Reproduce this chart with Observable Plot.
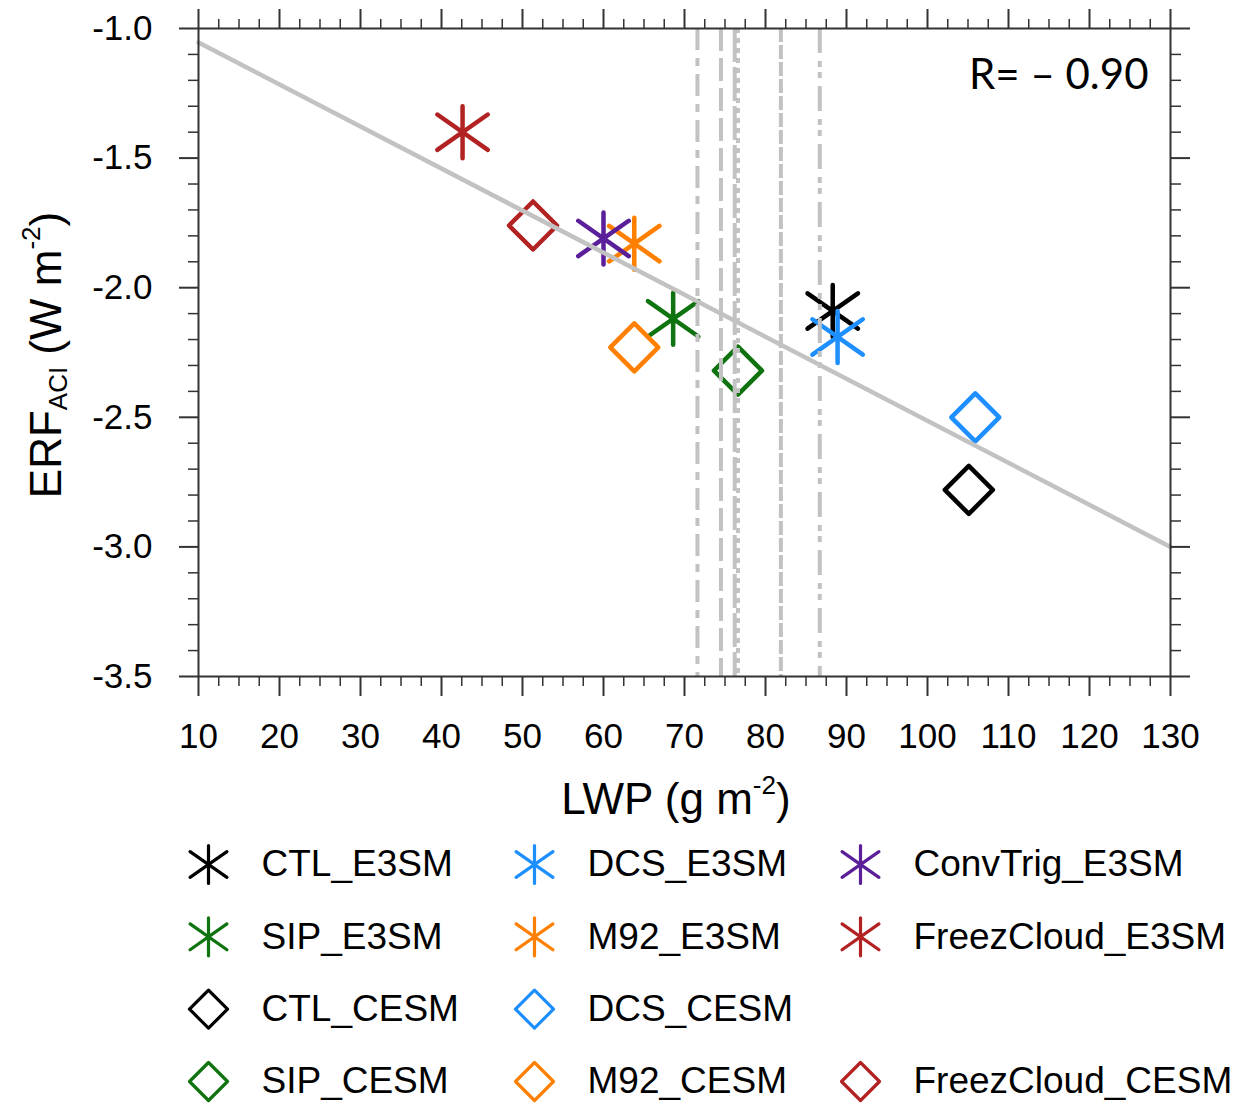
<!DOCTYPE html>
<html>
<head>
<meta charset="utf-8">
<script src="https://cdn.jsdelivr.net/npm/d3@7"></script>
<script src="https://cdn.jsdelivr.net/npm/@observablehq/plot@0.6"></script>
<style>
  html, body { margin: 0; padding: 0; background: white; }
  svg { display: block; }
</style>
</head>
<body>
<div id="chart"></div>
<script>
// ---------- data ----------
const names = ["CTL_E3SM","SIP_E3SM","DCS_E3SM","M92_E3SM","ConvTrig_E3SM","FreezCloud_E3SM",
               "CTL_CESM","SIP_CESM","DCS_CESM","M92_CESM","FreezCloud_CESM"];
const lwp = [88.3, 68.6, 88.9, 63.8, 60.0, 42.6, 105.1, 76.6, 105.9, 63.8, 51.3];
const erf = [-2.09, -2.12, -2.19, -1.83, -1.81, -1.40, -2.78, -2.32, -2.50, -2.23, -1.76];
const colors = ["#000000","#0f730f","#1e8fff","#ff8000","#5a1f99","#b22222",
                "#000000","#0f730f","#1e8fff","#ff8000","#b22222"];
const models = ["E3SM","E3SM","E3SM","E3SM","E3SM","E3SM","CESM","CESM","CESM","CESM","CESM"];
// legend layout (column, row)
const legendCol = [0, 0, 1, 1, 2, 2, 0, 0, 1, 1, 2];
const legendRow = [0, 1, 0, 1, 0, 1, 2, 3, 2, 3, 3];

// regression line end points
const regX = [10, 130];
const regY = [-1.054, -3.0];

// vertical reference lines
const vlineX = [71.6, 74.5, 76.2, 76.6, 81.9, 86.7];
const vlineDash = ["22 8 8 8", "23 7", "34 5", "5 5", "14 3", "25 8 6 5 6 8"];

const xTicks = [10, 20, 30, 40, 50, 60, 70, 80, 90, 100, 110, 120, 130];
const yTicks = [-3.5, -3.0, -2.5, -2.0, -1.5, -1.0];
const xMinor = d3.range(10, 131, 2.5).filter(v => v % 10 !== 0);
const yMinor = d3.range(-35, -9).filter(v => v % 5 !== 0).map(v => v / 10);

const rText = "R= \u2013 0.90";

// ---------- custom symbols ----------
const asterisk = {
  draw(ctx, size) {
    const r = Math.sqrt(size / Math.PI);
    const u = r * 0.97, t = r * 0.68;
    ctx.moveTo(0, -r); ctx.lineTo(0, r);
    ctx.moveTo(-u, -t); ctx.lineTo(u, t);
    ctx.moveTo(-u, t); ctx.lineTo(u, -t);
  }
};
const diamond = {
  draw(ctx, size) {
    const r = Math.sqrt(size / Math.PI);
    ctx.moveTo(0, -r); ctx.lineTo(r, 0); ctx.lineTo(0, r); ctx.lineTo(-r, 0); ctx.closePath();
  }
};

const table = names.map((n, i) => ({name: n, lwp: lwp[i], erf: erf[i], color: colors[i],
  model: models[i], col: legendCol[i], row: legendRow[i]}));
const e3sm = table.filter(d => d.model === "E3SM");
const cesm = table.filter(d => d.model === "CESM");
const regTable = regX.map((x, i) => ({x, y: regY[i]}));

const font = "'Liberation Sans', Arial, Helvetica, sans-serif";
const gray = "#c2c2c2";
const axisColor = "#333333";

const main = Plot.plot({
  width: 1238, height: 840,
  marginLeft: 198, marginRight: 68, marginTop: 28, marginBottom: 164,
  x: {domain: [10, 130], axis: null},
  y: {domain: [-3.5, -1.0], axis: null},
  color: {type: "identity"},
  style: {fontFamily: font, fontSize: "35px", background: "white", color: "black"},
  marks: [
    Plot.dot(e3sm, {x: "lwp", y: "erf", stroke: "color", symbol: asterisk, r: 26, strokeWidth: 4.5, strokeLinecap: "round", fill: "none"}),
    Plot.dot(cesm, {x: "lwp", y: "erf", stroke: "color", symbol: diamond, r: 24, strokeWidth: 4.5, strokeLinejoin: "round", fill: "none"}),
    ...vlineX.map((v, i) => Plot.ruleX([v], {stroke: gray, strokeWidth: 4, strokeDasharray: vlineDash[i]})),
    Plot.line(regTable, {x: "x", y: "y", stroke: gray, strokeWidth: 4.5}),
    Plot.frame({stroke: axisColor, strokeWidth: 2}),
    Plot.axisX({ticks: xTicks, anchor: "bottom", tickSize: 20, tickPadding: 27, tickFormat: d => String(d), label: null, stroke: axisColor, strokeWidth: 2, fill: "black", fontSize: 35}),
    Plot.axisX({ticks: xMinor, anchor: "bottom", tickSize: 10, tickFormat: () => "", label: null, stroke: axisColor, strokeWidth: 1.5}),
    Plot.axisX({ticks: xTicks, anchor: "top", tickSize: 20, tickFormat: () => "", label: null, stroke: axisColor, strokeWidth: 2}),
    Plot.axisX({ticks: xMinor, anchor: "top", tickSize: 10, tickFormat: () => "", label: null, stroke: axisColor, strokeWidth: 1.5}),
    Plot.axisY({ticks: yTicks, anchor: "left", tickSize: 19, tickPadding: 27, tickFormat: d => d.toFixed(1), label: null, stroke: axisColor, strokeWidth: 2, fill: "black", fontSize: 35}),
    Plot.axisY({ticks: yMinor, anchor: "left", tickSize: 10, tickFormat: () => "", label: null, stroke: axisColor, strokeWidth: 1.5}),
    Plot.axisY({ticks: yTicks, anchor: "right", tickSize: 19, tickFormat: () => "", label: null, stroke: axisColor, strokeWidth: 2}),
    Plot.axisY({ticks: yMinor, anchor: "right", tickSize: 10, tickFormat: () => "", label: null, stroke: axisColor, strokeWidth: 1.5}),
    Plot.text([rText], {frameAnchor: "top-right", dx: -22, dy: 31, lineAnchor: "top", textAnchor: "end", fontFamily: "Lato, 'Open Sans', sans-serif", fontSize: 42, fill: "black"})
  ]
});

// axis titles with sub/superscripts
const svg = d3.select(main);
const xt = svg.append("text")
  .attr("x", 676).attr("y", 814)
  .attr("text-anchor", "middle")
  .attr("font-family", font).attr("font-size", 44).attr("fill", "black");
xt.append("tspan").text("LWP (g m");
xt.append("tspan").attr("dy", -20).attr("font-size", 26).text("-2");
xt.append("tspan").attr("dy", 20).text(")");

const yt = svg.append("text")
  .attr("transform", "translate(61,355) rotate(-90)")
  .attr("text-anchor", "middle")
  .attr("font-family", font).attr("font-size", 44).attr("fill", "black");
yt.append("tspan").text("ERF");
yt.append("tspan").attr("dy", 6).attr("font-size", 26).text("ACI");
yt.append("tspan").attr("dy", -6).text(" (W m");
yt.append("tspan").attr("dy", -21).attr("font-size", 26).text("-2");
yt.append("tspan").attr("dy", 21).text(")");

const legend = Plot.plot({
  width: 1238, height: 263, margin: 0,
  x: {domain: [0, 2], range: [208, 860], axis: null},
  y: {domain: [0, 3], range: [24, 241], axis: null},
  color: {type: "identity"},
  style: {fontFamily: font, fontSize: "37px", background: "white", color: "black"},
  marks: [
    Plot.dot(e3sm, {x: "col", y: "row", stroke: "color", symbol: asterisk, r: 19, strokeWidth: 3.2, strokeLinecap: "round", fill: "none"}),
    Plot.dot(cesm, {x: "col", y: "row", stroke: "color", symbol: diamond, r: 19, strokeWidth: 3.2, strokeLinejoin: "round", fill: "none"}),
    Plot.text(table, {x: "col", y: "row", text: "name", dx: 53, textAnchor: "start", fontSize: 37, fill: "black"})
  ]
});

const chart = document.getElementById("chart");
chart.appendChild(main);
chart.appendChild(legend);
</script>
</body>
</html>
